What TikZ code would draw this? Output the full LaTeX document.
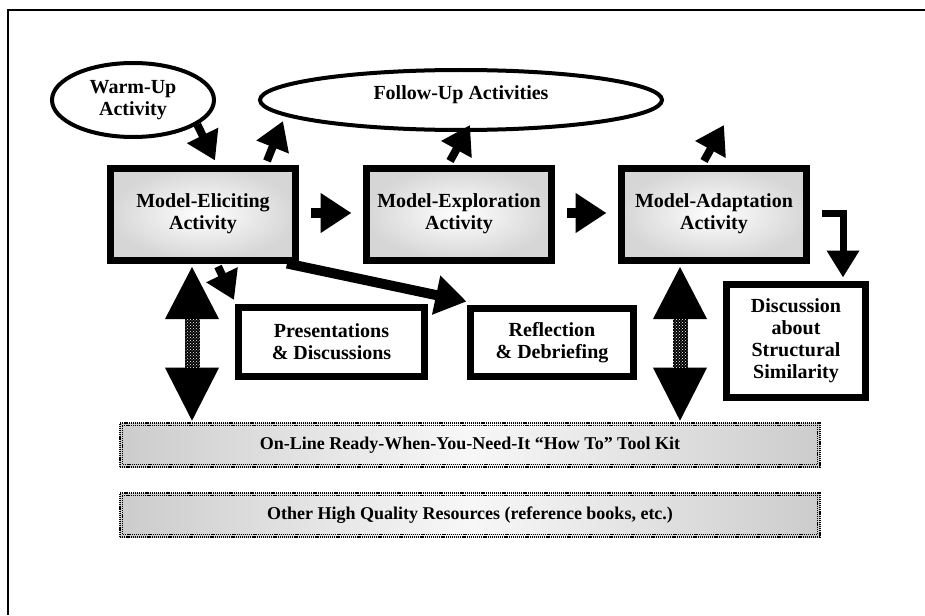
\documentclass[tikz,border=0pt]{standalone}
\usepackage{fontspec}
\setmainfont{Liberation Serif}
\usetikzlibrary{arrows.meta,calc,patterns,shapes.geometric}
\newcommand\dblarr[2]{%
  \fill[black] (#1) -- ++(27,52) -- ++(-54,0) -- cycle;
  \fill[black] (#2) -- ++(27,-53) -- ++(-54,0) -- cycle;
  \fill[black] ($(#1)+(-7.5,51)$) rectangle ($(#2)+(7.5,-52)$);
  \fill[pattern=crosshatch dots, pattern color=white] ($(#1)+(-7.5,52)$) rectangle ($(#2)+(7.5,-53)$);
}
\begin{document}
\begin{tikzpicture}[x=1pt,y=-1pt,
  txt/.style={font=\bfseries\fontsize{20}{22}\selectfont, align=center, text=black},
  box/.style={txt, draw, line width=7pt, shade, inner color=white, outer color=black!16,
    minimum width=185pt, minimum height=92pt, inner sep=0pt},
  sbox/.style={txt, draw, line width=7pt, fill=white, inner sep=0pt},
  oval/.style={txt, ellipse, draw, line width=4pt, fill=white, inner sep=0pt},
  bar/.style={draw, line width=2.2pt, dash pattern=on 1.2pt off 0.9pt,
    left color=black!20, right color=black!20, middle color=black!3,
    minimum width=700pt, minimum height=44pt, inner sep=0pt,
    font=\bfseries\fontsize{18}{20}\selectfont},
  fat/.style={line width=10pt, -{Triangle[length=31pt,width=38pt]}},
  mid/.style={line width=8pt, -{Triangle[length=28pt,width=33pt]}},
]
\useasboundingbox (0,0) rectangle (925,615);
\fill[white] (0,0) rectangle (925,615);
\draw[line width=2pt] (925,10) -- (8,10) -- (8,615);

% nodes
\node[oval, minimum width=162pt, minimum height=74pt] (warm) at (133,100) {Warm-Up\\Activity};
\node[oval, minimum width=402pt, minimum height=60pt] (follow) at (461,100) {};
\node[txt] (followtxt) at (461,95) {Follow-Up Activities};
\node[box] (elicit) at (203,214) {Model-Eliciting\\Activity};
\node[box] (explore) at (459,214) {Model-Exploration\\Activity};
\node[box] (adapt) at (714,214) {Model-Adaptation\\Activity};
\node[sbox, minimum width=186pt, minimum height=69pt] (present) at (331.5,342) {Presentations\\\& Discussions};
\node[sbox, minimum width=163pt, minimum height=68pt] (reflect) at (552,342.5) {Reflection\\\& Debriefing};
\node[sbox, minimum width=139pt, minimum height=113pt] (disc) at (796,341) {Discussion\\about\\Structural\\Similarity};
\node[bar] (tool) at (470,445) {On-Line Ready-When-You-Need-It “How To” Tool Kit};
\node[bar] (other) at (470,515) {Other High Quality Resources (reference books, etc.)};
\foreach \b in {tool,other}{
  \draw[line width=1.2pt, dash pattern=on 1.2pt off 0.9pt]
    ($(\b.north west)+(3.5,3.5)$) rectangle ($(\b.south east)+(-3.5,-3.5)$);
}

% connectors
\draw[mid] (warm.-21) -- ($(elicit.north)+(12,-4)$);
\draw[mid] ($(elicit.north)+(64,-3.5)$) -- ($(follow.center)+(-178,21)$);
\draw[mid] ($(explore.north)+(-9,-3.5)$) -- ($(follow.center)+(9,25)$);
\draw[mid] ($(adapt.north)+(-10,-3.5)$) -- ($(follow.east)+(60,25)$);
\draw[fat] ($(elicit.east)+(11.5,-1)$) -- ($(explore.west)+(-11.5,-1)$);
\draw[fat] ($(explore.east)+(11.5,-1)$) -- ($(adapt.west)+(-11.5,-1)$);
\draw[line width=7pt, -{Triangle[length=27pt,width=31pt]}] ($(adapt.east)+(11.5,-1)$) -| ($(disc.north)+(47,-3.5)$);
\draw[mid] ($(elicit.south)+(15,3)$) -- ($(present.north west)+(-1,-4)$);
\draw[fat] ($(elicit.south east)+(-12,0)$) -- ($(reflect.north west)+(-0.5,-3.5)$);

% double arrows to tool kit
\coordinate (d1t) at ($(elicit.south)+(-11,3.5)$);
\coordinate (d1b) at ($(d1t |- tool.north)+(0,-1.2)$);
\coordinate (d2t) at ($(adapt.south)+(-34,3.5)$);
\coordinate (d2b) at ($(d2t |- tool.north)+(0,-1.2)$);
\dblarr{d1t}{d1b}
\dblarr{d2t}{d2b}
\end{tikzpicture}
\end{document}
